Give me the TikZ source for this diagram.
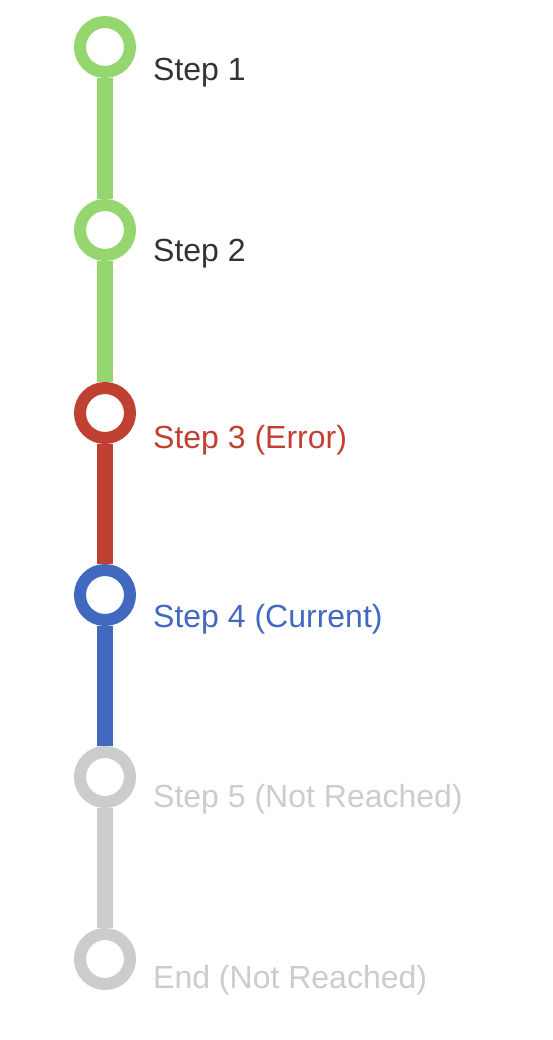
\documentclass[tikz,border=0pt]{standalone}
\usepackage{fontspec}
\setmainfont{Liberation Sans}
\definecolor{cgreen}{RGB}{150,214,110}
\definecolor{cred}{RGB}{192,64,50}
\definecolor{cblue}{RGB}{65,105,192}
\definecolor{cgray}{RGB}{204,204,204}
\definecolor{ctext}{RGB}{51,51,51}
\begin{document}
\begin{tikzpicture}[x=1pt,y=-1pt,
  ring/.style={circle,draw=#1,line width=12pt,fill=white,minimum size=50pt,inner sep=0pt},
  lbl/.style={anchor=base west,inner sep=0pt,text=#1,font=\fontsize{32}{38}\selectfont},
  seg/.style={draw=#1,line width=16pt}]
\useasboundingbox (0,0) rectangle (552,1040);
\node[ring=cgreen] (s1) at (105,47) {};
\node[ring=cgreen] (s2) at (105,230) {};
\node[ring=cred] (s3) at (105,413) {};
\node[ring=cblue] (s4) at (105,595) {};
\node[ring=cgray] (s5) at (105,777) {};
\node[ring=cgray] (s6) at (105,959) {};
\node[lbl=ctext] (t1) at (153,81) {Step 1};
\node[lbl=ctext] (t2) at (153,262) {Step 2};
\node[lbl=cred] (t3) at (153,448) {Step 3 (Error)};
\node[lbl=cblue] (t4) at (153,627) {Step 4 (Current)};
\node[lbl=cgray] (t5) at (153,807) {Step 5 (Not Reached)};
\node[lbl=cgray] (t6) at (153,988) {End (Not Reached)};
\draw[seg=cgreen] (s1.south) -- (s2.north);
\draw[seg=cgreen] (s2.south) -- (s3.north);
\draw[seg=cred] (s3.south) -- (s4.north);
\draw[seg=cblue] (s4.south) -- (s5.north);
\draw[seg=cgray] (s5.south) -- (s6.north);
\end{tikzpicture}
\end{document}
